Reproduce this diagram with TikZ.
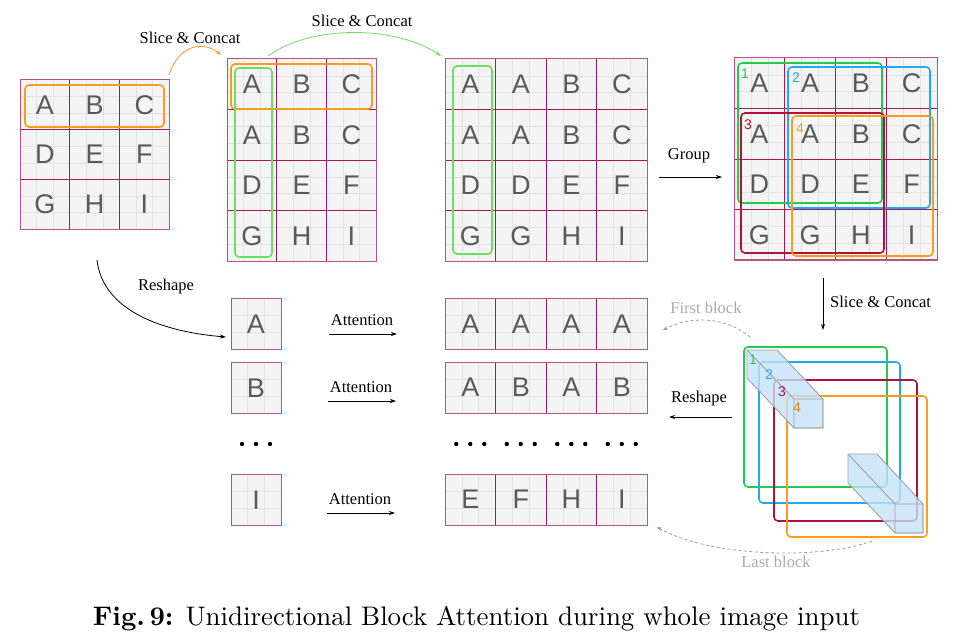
\documentclass[tikz,border=0pt]{standalone}
\usepackage{fontspec}
\usetikzlibrary{arrows.meta}
\newfontfamily\lblfont{Liberation Serif}
\newfontfamily\letfont{Liberation Sans}
\newfontfamily\capfont{lmroman10-regular.otf}[BoldFont=lmroman10-bold.otf]
\definecolor{cellbg}{HTML}{F4F4F4}
\definecolor{subline}{HTML}{E2E2E2}
\definecolor{gridline}{HTML}{A0185E}
\definecolor{letgray}{HTML}{5A5A5A}
\definecolor{myorange}{HTML}{FF9A1E}
\definecolor{mygreen}{HTML}{6BE05A}
\definecolor{dgreen}{HTML}{22CC4A}
\definecolor{myblue}{HTML}{20AAEE}
\definecolor{myred}{HTML}{B01238}
\definecolor{prismfill}{HTML}{C4E2F8}
\definecolor{prismedge}{HTML}{A0A0A0}
\definecolor{dashgray}{HTML}{999999}
\definecolor{lblgray}{HTML}{AAAAAA}
\tikzset{
  letter/.style={font=\letfont\fontsize{27}{27}\selectfont, text=letgray, inner sep=0pt},
  lbl/.style={font=\lblfont\fontsize{16.5}{18}\selectfont, inner sep=0pt},
  numlbl/.style={font=\letfont\fontsize{14}{14}\selectfont, inner sep=0pt},
  selbox/.style={line width=1.6pt, rounded corners=4pt},
  arr/.style={-{Stealth[length=6pt,width=4pt]}, line width=0.8pt},
  dasharr/.style={-{Stealth[length=5pt,width=4pt]}, line width=0.8pt, dashgray, dash pattern=on 3pt off 2.5pt},
  prism/.style={fill=prismfill, fill opacity=0.8, draw=prismedge, line width=0.9pt, line join=round},
}
% grid macro: #1 x0, #2 y0, #3 cols, #4 rows, #5 cell w, #6 cell h
\newcommand\mygrid[6]{%
  \fill[cellbg] (#1,#2) rectangle ({#1+#3*#5},{#2+#4*#6});
  \pgfmathtruncatemacro\nsubx{3*#3}
  \pgfmathtruncatemacro\nsuby{3*#4}
  \foreach \k in {1,...,\nsubx} {\draw[subline, line width=0.6pt] ({#1+\k*#5/3},#2) -- ++(0,{#4*#6});}
  \foreach \k in {1,...,\nsuby} {\draw[subline, line width=0.6pt] (#1,{#2+\k*#6/3}) -- ++({#3*#5},0);}
  \ifnum#3>1 \pgfmathtruncatemacro\ncx{#3-1}\foreach \k in {1,...,\ncx} {\draw[gridline, line width=0.8pt] ({#1+\k*#5},#2) -- ++(0,{#4*#6});}\fi
  \ifnum#4>1 \pgfmathtruncatemacro\ncy{#4-1}\foreach \k in {1,...,\ncy} {\draw[gridline, line width=0.8pt] (#1,{#2+\k*#6}) -- ++({#3*#5},0);}\fi
  \draw[gridline!75, line width=1pt] (#1,#2) rectangle ({#1+#3*#5},{#2+#4*#6});
}
% letters: #1 prefix, #2 x0, #3 y0, #4 cw, #5 ch, #6 list of row/col/letter
\newcommand\myletters[6]{%
  \foreach \r/\c/\t in {#6} {\node[letter] (#1-\r-\c) at ({#2+(\c-0.5)*#4},{#3+(\r-0.5)*#5}) {\t};}
}
\begin{document}
\begin{tikzpicture}[x=1pt,y=-1pt]
\useasboundingbox (0,0) rectangle (980,639);

% ---- Grid 1
\mygrid{20}{80}{3}{3}{49.7}{49.7}
\myletters{ga}{20}{80}{49.7}{49.7}{1/1/A,1/2/B,1/3/C,2/1/D,2/2/E,2/3/F,3/1/G,3/2/H,3/3/I}
\draw[selbox, myorange] (25,85) rectangle (164,127);
\coordinate (g1out) at (169,75);

% ---- Grid 2
\mygrid{227}{59}{3}{4}{49.7}{50.5}
\myletters{gb}{227}{59}{49.7}{50.5}{1/1/A,1/2/B,1/3/C,2/1/A,2/2/B,2/3/C,3/1/D,3/2/E,3/3/F,4/1/G,4/2/H,4/3/I}
\draw[selbox, myorange] (231,64) rectangle (372,109);
\draw[selbox, mygreen] (235,68) rectangle (272,257);
\coordinate (g2in) at (221,55);
\coordinate (g2out) at (268,56);

% ---- Grid 3
\mygrid{445}{59}{4}{4}{50.5}{50.5}
\myletters{gc}{445}{59}{50.5}{50.5}{1/1/A,1/2/A,1/3/B,1/4/C,2/1/A,2/2/A,2/3/B,2/4/C,3/1/D,3/2/D,3/3/E,3/4/F,4/1/G,4/2/G,4/3/H,4/4/I}
\draw[selbox, mygreen] (453,66) rectangle (492,254);
\coordinate (g3in) at (441,56);
\coordinate (g3out) at (659,177);

% ---- Grid 4
\mygrid{734}{58}{4}{4}{50.75}{50.5}
\myletters{gd}{734}{58}{50.75}{50.5}{1/1/A,1/2/A,1/3/B,1/4/C,2/1/A,2/2/A,2/3/B,2/4/C,3/1/D,3/2/D,3/3/E,3/4/F,4/1/G,4/2/G,4/3/H,4/4/I}
\draw[selbox, dgreen] (738,63) rectangle (882,203);
\draw[selbox, myblue] (788,67) rectangle (930,208);
\draw[selbox, myred] (741,113) rectangle (884,253);
\draw[selbox, myorange] (792,116) rectangle (933,256);
\node[numlbl, text=dgreen] (n1) at (745,74) {1};
\node[numlbl, text=myblue] (n2) at (796,78) {2};
\node[numlbl, text=myred] (n3) at (748,125) {3};
\node[numlbl, text=myorange] (n4) at (800,129) {4};
\coordinate (g4in) at (722,177);
\coordinate (g4out) at (823,278);

% ---- top arrows
\draw[arr, myorange] (g1out) .. controls (180,42) and (205,42) .. (g2in);
\node[lbl] (sc1) at (190,38) {Slice \& Concat};
\draw[arr, mygreen] (g2out) .. controls (310,25) and (395,25) .. (g3in);
\node[lbl] (sc2) at (362,21) {Slice \& Concat};
\draw[arr] (g3out) -- (g4in);
\node[lbl] (grp) at (689,156) {Group};

% ---- 3D part
\coordinate (c3din) at (823,330);
\draw[arr] (g4out) -- (c3din);
\node[lbl, anchor=west] (sc3) at (830,302) {Slice \& Concat};
\draw[selbox, dgreen] (744,347) rectangle (887,487);
\draw[selbox, myblue] (759,362) rectangle (900,503);
\draw[selbox, myred] (774,380) rectangle (917,521);
\draw[selbox, myorange] (787,396) rectangle (927,537);
% prism 1
\draw[prism] (747,350) -- (777,350) -- (823,399) -- (823,428) -- (794,428) -- (747,378) -- cycle;
\draw[prismedge, line width=0.9pt] (747,350) -- (794,399) (794,399) rectangle (823,428);
% prism 2
\draw[prism] (848,454) -- (877,454) -- (923,504) -- (923,533) -- (895,533) -- (848,483) -- cycle;
\draw[prismedge, line width=0.9pt] (848,454) -- (895,504) (895,504) rectangle (923,533);
\node[numlbl, text=dgreen] (p1) at (753,360) {1};
\node[numlbl, text=myblue] (p2) at (769,375) {2};
\node[numlbl, text=myred] (p3) at (782,392) {3};
\node[numlbl, text=myorange!80!black!70!myorange] (p4) at (797,408) {4};
\coordinate (fbs) at (750,337);
\coordinate (fbe) at (663,330);
\draw[dasharr] (fbs) .. controls (725,316) and (690,316) .. (fbe);
\node[lbl, text=lblgray] (fbl) at (706,308) {First block};
\coordinate (lbs) at (872,541);
\coordinate (lbe) at (657,527);
\draw[dasharr] (lbs) .. controls (820,560) and (710,557) .. (lbe);
\node[lbl, text=lblgray] (lbl) at (776,562) {Last block};
\coordinate (rs1) at (732,417);
\coordinate (rs2) at (669,417);
\draw[arr] (rs1) -- (rs2);
\node[lbl] (rsl) at (699,399) {Reshape};

% ---- Reshape curve
\coordinate (rsa) at (97,260);
\coordinate (rsb) at (226,337);
\draw[arr] (rsa) .. controls (103,312) and (165,332) .. (rsb);
\node[lbl] (rsl2) at (166,287) {Reshape};

% ---- bottom rows
\mygrid{231}{298}{1}{1}{50}{51.5}
\node[letter] (sA) at (256,324) {A};
\mygrid{231}{362}{1}{1}{50}{51}
\node[letter] (sB) at (256,388) {B};
\mygrid{231}{474}{1}{1}{50}{51}
\node[letter] (sI) at (256,500) {I};

\mygrid{445}{298}{4}{1}{50.5}{51.5}
\myletters{ra}{445}{298}{50.5}{51.5}{1/1/A,1/2/A,1/3/A,1/4/A}
\mygrid{445}{362}{4}{1}{50.5}{51}
\myletters{rb}{445}{362}{50.5}{51}{1/1/A,1/2/B,1/3/A,1/4/B}
\mygrid{445}{474}{4}{1}{50.5}{51}
\myletters{ri}{445}{474}{50.5}{51}{1/1/E,1/2/F,1/3/H,1/4/I}

\coordinate (a1s) at (329,334); \coordinate (a1e) at (397,334);
\draw[arr] (a1s) -- (a1e);
\node[lbl] (at1) at (362,320) {Attention};
\coordinate (a2s) at (328,401); \coordinate (a2e) at (396,401);
\draw[arr] (a2s) -- (a2e);
\node[lbl] (at2) at (361,387) {Attention};
\coordinate (a3s) at (327,513); \coordinate (a3e) at (395,513);
\draw[arr] (a3s) -- (a3e);
\node[lbl] (at3) at (360,499) {Attention};

\foreach \cx in {256,470.25,520.75,571.25,621.75} {
  \foreach \dx in {-14,0,14} {\fill ({\cx+\dx},444) circle (2.2pt);}
}

% ---- caption
\node[anchor=base, inner sep=0pt] (cap) at (476.5,625) {\resizebox{767pt}{!}{\capfont\fontsize{22}{24}\selectfont\textbf{Fig.\,9:} Unidirectional Block Attention during whole image input}};
\end{tikzpicture}
\end{document}
